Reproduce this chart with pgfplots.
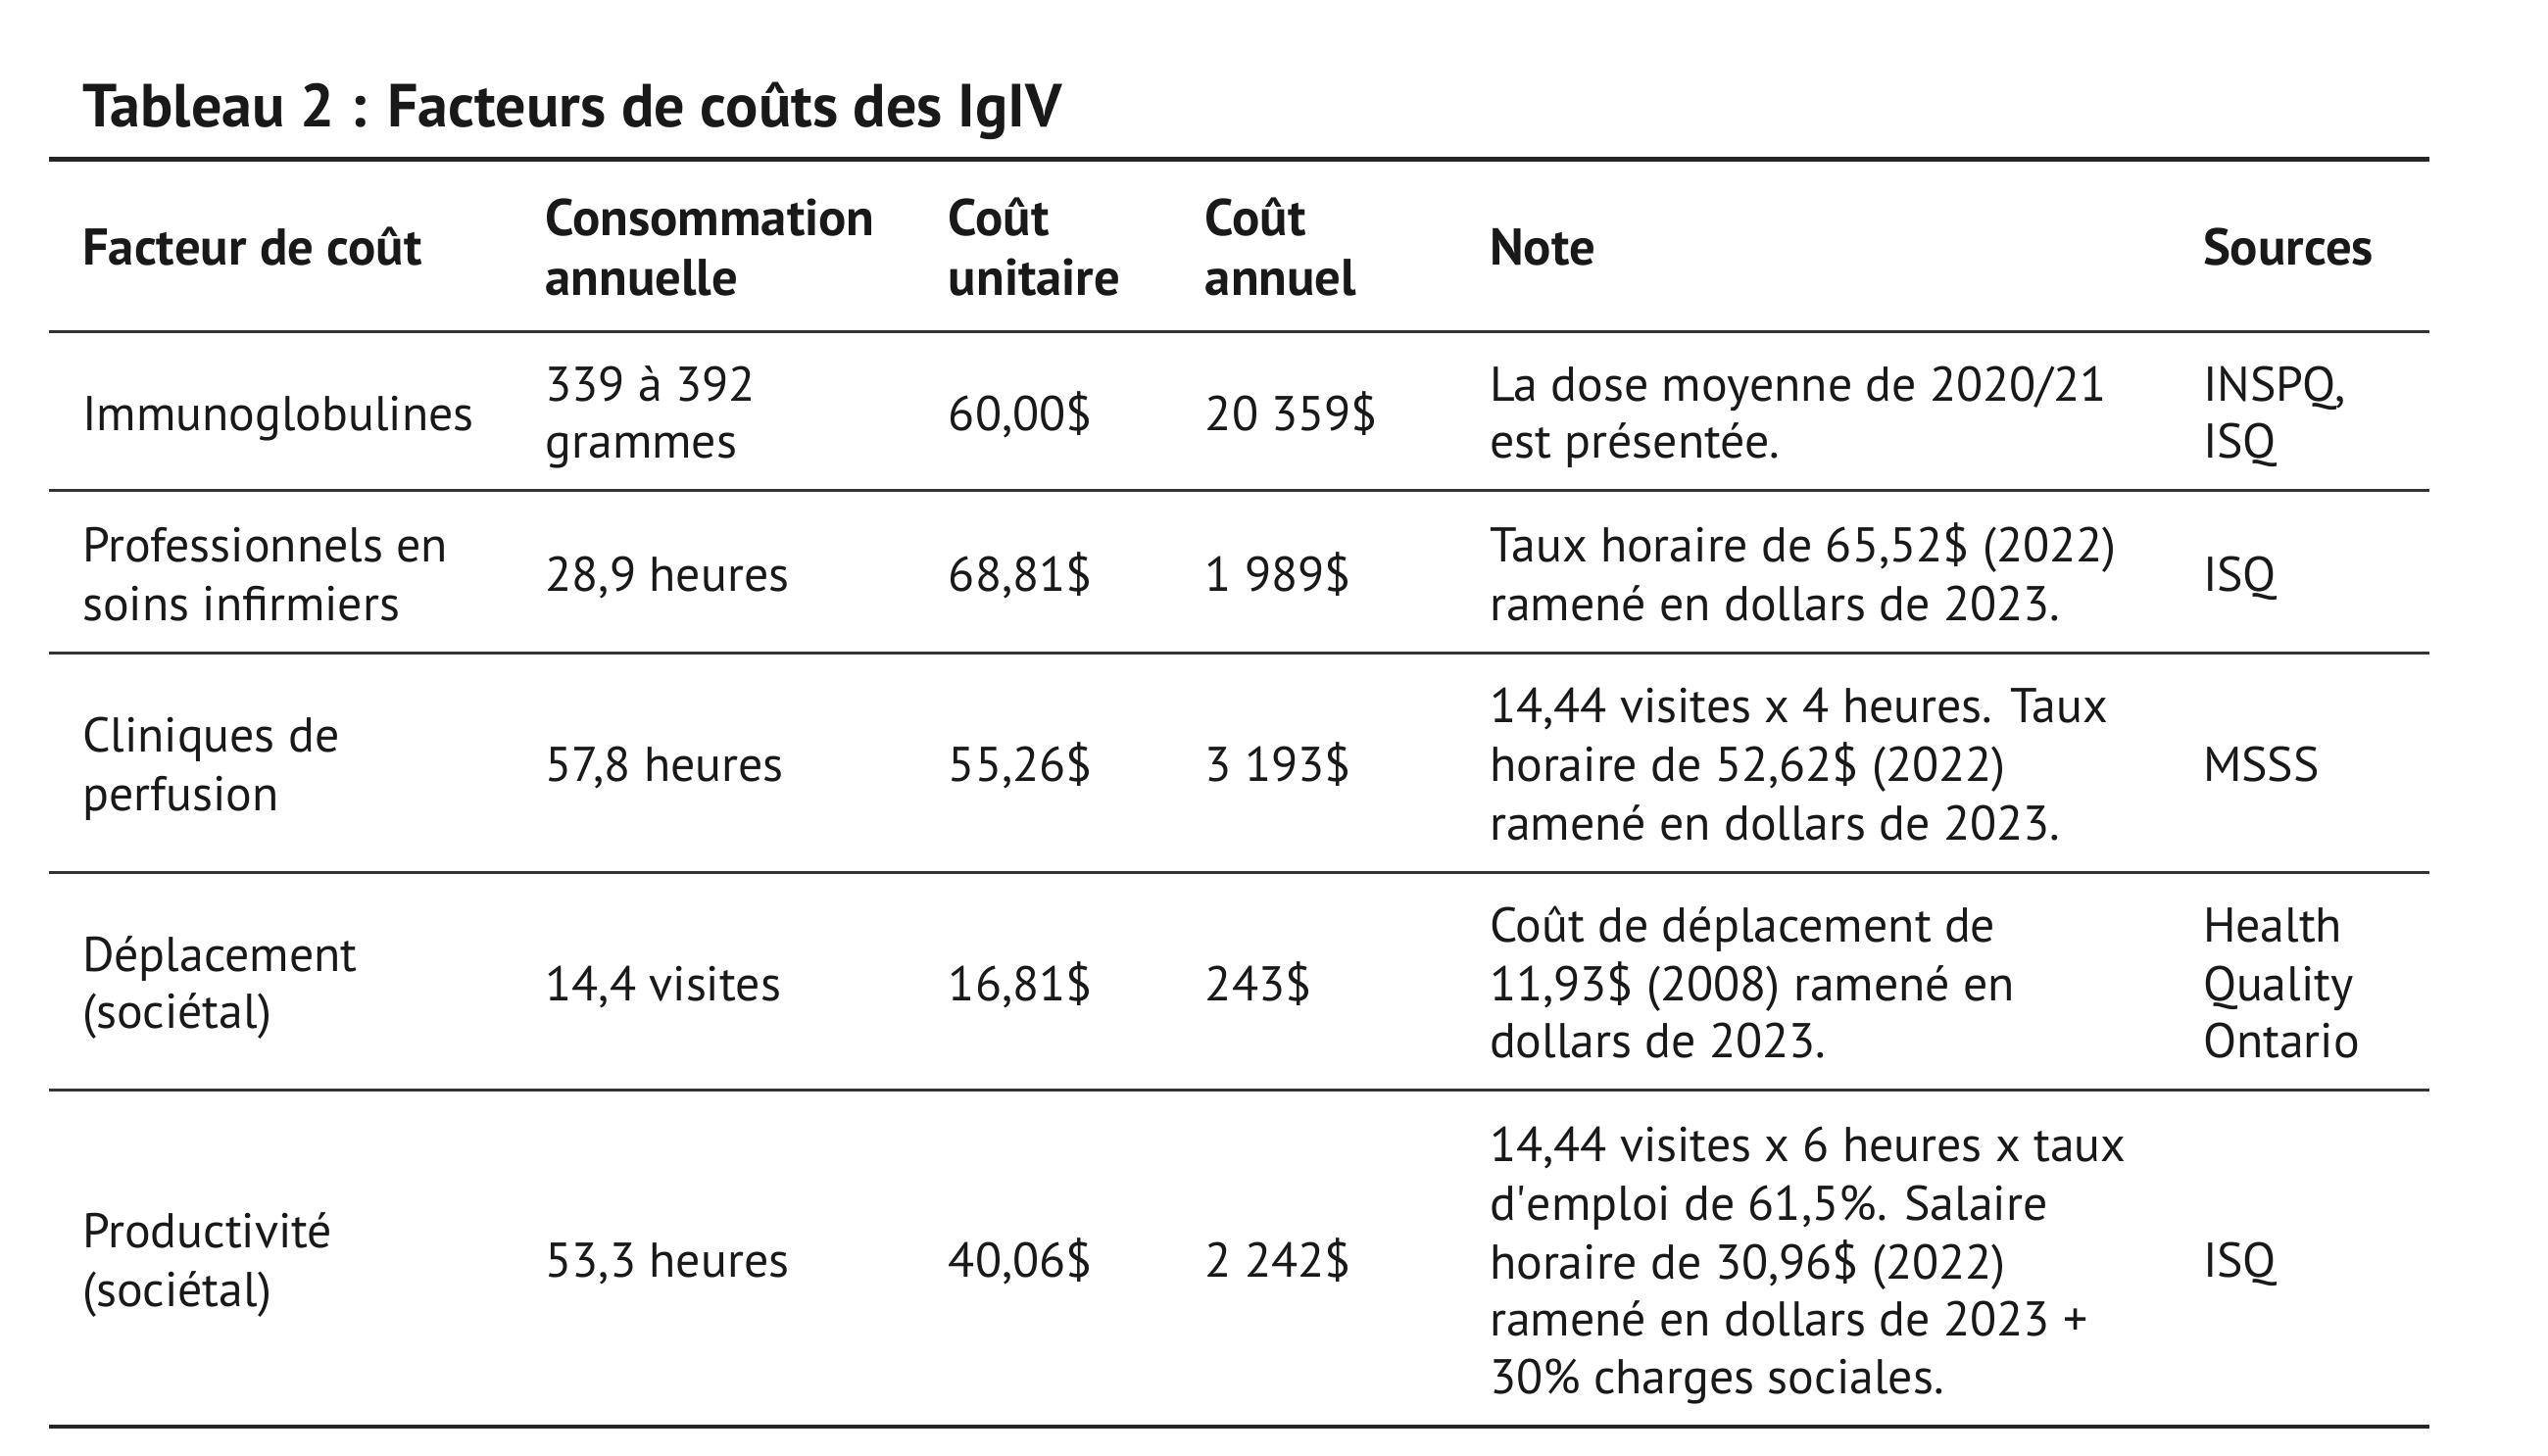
\documentclass[border=0pt]{standalone}
\usepackage{fontspec}
\setmainfont{PT Sans}
\usepackage{pgfplots}
\pgfplotsset{compat=1.18}
\tikzset{
  t/.style={anchor=base west, inner sep=0pt, text=black!90, font=\fontsize{8.55}{10.2}\selectfont},
  h/.style={anchor=base west, inner sep=0pt, text=black!90, font=\fontsize{9.05}{10.2}\selectfont\bfseries},
}
\begin{document}
\begin{tikzpicture}
\begin{axis}[
  width=15.68cm, height=8.96cm, scale only axis,
  xmin=0, xmax=1568, ymin=0, ymax=896, y dir=reverse,
  axis lines=none, clip=false,
]
% frame of the picture (invisible)
\addplot[draw=none, forget plot] coordinates {(0,0) (1568,896)};
\path (axis cs:0,0) rectangle (axis cs:1568,896);
% rules
\addplot[black!85, line width=0.95pt] coordinates {(30,98) (1495,98)};
\addplot[black!80, line width=0.5pt] coordinates {(30,204) (1495,204)};
\addplot[black!80, line width=0.5pt] coordinates {(30,302) (1495,302)};
\addplot[black!80, line width=0.5pt] coordinates {(30,402) (1495,402)};
\addplot[black!80, line width=0.5pt] coordinates {(30,537) (1495,537)};
\addplot[black!80, line width=0.5pt] coordinates {(30,671) (1495,671)};
\addplot[black!85, line width=0.7pt] coordinates {(30,878) (1495,878)};
% title
\node[anchor=base west, inner sep=0pt, text=black!90, font=\fontsize{10.65}{13}\selectfont\bfseries] at (axis cs:50,78) {Tableau 2 : Facteurs de coûts des IgIV};
% header
\node[h] at (axis cs:50,163) {Facteur de coût};
\node[h] at (axis cs:335,145) {Consommation};
\node[h] at (axis cs:335,182) {annuelle};
\node[h] at (axis cs:583,145) {Coût};
\node[h] at (axis cs:583,182) {unitaire};
\node[h] at (axis cs:741,145) {Coût};
\node[h] at (axis cs:741,182) {annuel};
\node[h] at (axis cs:916,163) {Note};
\node[h] at (axis cs:1355,163) {Sources};
% row 1
\node[t] at (axis cs:50,265) {Immunoglobulines};
\node[t] at (axis cs:335,247) {339 à 392};
\node[t] at (axis cs:335,282) {grammes};
\node[t] at (axis cs:583,265) {60,00\$};
\node[t] at (axis cs:741,265) {20~359\$};
\node[t] at (axis cs:916,247) {La dose moyenne de 2020/21};
\node[t] at (axis cs:916,282) {est présentée.};
\node[t] at (axis cs:1355,247) {INSPQ,};
\node[t] at (axis cs:1355,282) {ISQ};
% row 2
\node[t] at (axis cs:50,346) {Professionnels en};
\node[t] at (axis cs:50,382) {soins infirmiers};
\node[t] at (axis cs:335,364) {28,9 heures};
\node[t] at (axis cs:583,364) {68,81\$};
\node[t] at (axis cs:741,364) {1~989\$};
\node[t] at (axis cs:916,346) {Taux horaire de 65,52\$ (2022)};
\node[t] at (axis cs:916,382) {ramené en dollars de 2023.};
\node[t] at (axis cs:1355,364) {ISQ};
% row 3
\node[t] at (axis cs:50,463) {Cliniques de};
\node[t] at (axis cs:50,499) {perfusion};
\node[t] at (axis cs:335,481) {57,8 heures};
\node[t] at (axis cs:583,481) {55,26\$};
\node[t] at (axis cs:741,481) {3~193\$};
\node[t] at (axis cs:916,445) {14,44 visites x 4 heures. Taux};
\node[t] at (axis cs:916,481) {horaire de 52,62\$ (2022)};
\node[t] at (axis cs:916,517) {ramené en dollars de 2023.};
\node[t] at (axis cs:1355,481) {MSSS};
% row 4
\node[t] at (axis cs:50,598) {Déplacement};
\node[t] at (axis cs:50,633) {(sociétal)};
\node[t] at (axis cs:335,616) {14,4 visites};
\node[t] at (axis cs:583,616) {16,81\$};
\node[t] at (axis cs:741,616) {243\$};
\node[t] at (axis cs:916,580) {Coût de déplacement de};
\node[t] at (axis cs:916,616) {11,93\$ (2008) ramené en};
\node[t] at (axis cs:916,651) {dollars de 2023.};
\node[t] at (axis cs:1355,580) {Health};
\node[t] at (axis cs:1355,616) {Quality};
\node[t] at (axis cs:1355,651) {Ontario};
% row 5
\node[t] at (axis cs:50,768) {Productivité};
\node[t] at (axis cs:50,804) {(sociétal)};
\node[t] at (axis cs:335,786) {53,3 heures};
\node[t] at (axis cs:583,786) {40,06\$};
\node[t] at (axis cs:741,786) {2~242\$};
\node[t] at (axis cs:916,715) {14,44 visites x 6 heures x taux};
\node[t] at (axis cs:916,751) {d\textquotesingle emploi de 61,5\%. Salaire};
\node[t] at (axis cs:916,787) {horaire de 30,96\$ (2022)};
\node[t] at (axis cs:916,822) {ramené en dollars de 2023 +};
\node[t] at (axis cs:916,858) {30\% charges sociales.};
\node[t] at (axis cs:1355,786) {ISQ};
\end{axis}
\end{tikzpicture}
\end{document}
